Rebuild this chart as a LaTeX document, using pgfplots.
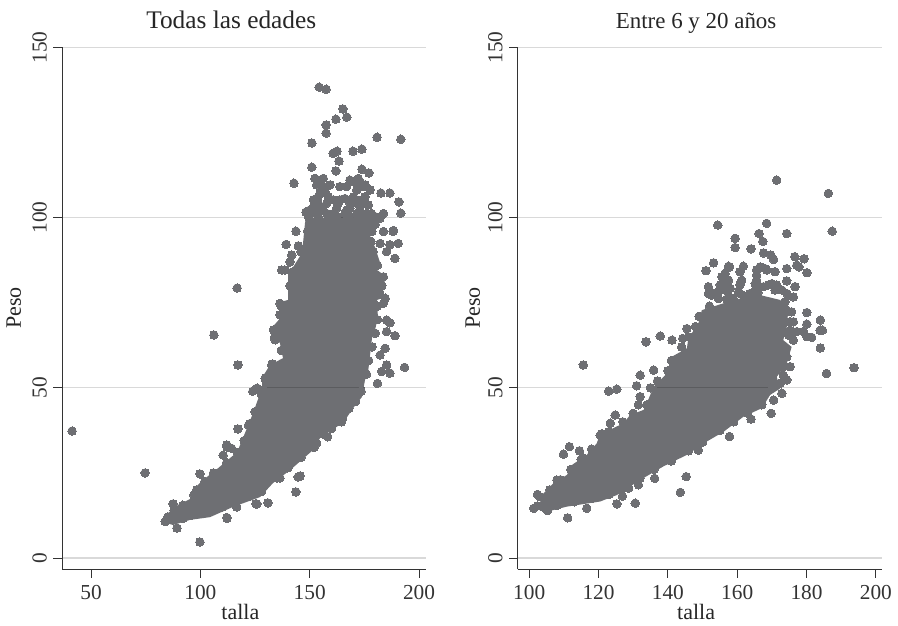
\documentclass[border=0pt]{standalone}
\usepackage{fontspec}
\setmainfont{Liberation Serif}
\usepackage{pgfplots}
\pgfplotsset{compat=1.18}
\definecolor{markgray}{HTML}{6E6F73}
\definecolor{griddy}{HTML}{D9D9D9}
\definecolor{darkline}{HTML}{5B5C5F}
\definecolor{axisc}{HTML}{333333}
\pgfplotsset{
  panel/.style={
    scale only axis, width=273pt, height=391.5pt, anchor=south west,
    axis lines=left, axis line style={-, color=axisc, line width=0.75pt},
    ymin=-3.23, ymax=150.1, ytick={0,50,100,150},
    ymajorgrids, grid style={griddy, line width=0.9pt},
    tick align=outside, tick style={color=axisc, line width=0.75pt},
    major tick length=6.5pt,
    tick label style={font=\fontsize{16}{18}\selectfont, text=black!80},
    /pgf/number format/assume math mode=true,
    /pgf/number format/1000 sep={},
    xticklabel style={anchor=base, yshift=-16pt},
    yticklabel style={rotate=90, anchor=base, yshift=5pt},
    label style={font=\fontsize{16.5}{18}\selectfont, text=black!85},
    title style={text=black!85, anchor=base},
    clip=false,
  },
  blob/.style={fill=markgray, draw=none, forget plot},
  pts/.style={only marks, mark=*, mark size=3.2pt, mark options={draw=markgray, fill=markgray, line width=0pt}},
  dk/.style={darkline, line width=0.9pt},
}
\begin{document}
\begin{tikzpicture}
\useasboundingbox (0,0) rectangle (673.5pt,468.75pt);
\begin{axis}[panel, at={(46.5pt,42pt)},
  xmin=36.7, xmax=203.2, xtick={50,100,150,200},
  xlabel={talla}, ylabel={Peso},
  xlabel style={at={(axis description cs:0.49,0)}, anchor=base, yshift=-38pt},
  ylabel style={at={(axis description cs:-0.113,0.5)}, anchor=base},
  title={Todas las edades},
  title style={at={(axis description cs:0.465,1)}, yshift=7.5pt, font=\fontsize{19}{20}\selectfont}]
\addplot[blob] coordinates {
(82.5,10.6)(85.2,13.2)(89.8,15.6)(96.2,17.6)(96.6,20)(101.2,22.9)(108.1,26.4)(116.8,31.1)
(120.4,36.7)(124.1,42.6)(128.2,49.9)(128.2,52.9)(131.8,56.7)(137.8,58.7)(136.4,63.1)(131.8,67)
(138.7,72)(135,74.9)(140.1,75.8)(140.1,83.1)(146.5,89.6)(147.9,98.7)(148.8,99.9)(181.2,99.9)
(181.2,98.4)(177.6,94.3)(179.9,91.3)(182.1,86.9)(180.8,84.6)(185.3,82.5)(182.1,78.7)(183.5,76.4)
(180.8,75.8)(181.2,70.8)(179.9,67)(178.5,64.6)(177.6,59.6)(176.7,54.6)(175.3,52.3)(173.9,47.3)
(169.8,44)(167.1,41.4)(164.8,39.6)(154.7,35.2)(151.5,31.7)(141,25.8)(133.2,22)(127.3,17.9)
(114.9,15)(104.4,12)(95.3,11.2)(87.5,9.7)} --cycle;
\addplot[pts] coordinates {
(41.3,37.3)(74.7,25)(99.8,24.7)(99.8,4.7)(110.4,30.2)(112.2,32.6)(117.2,37.9)(124,49)(125.9,49.9)
(112.2,11.7)(130.9,16.2)(125.4,15.9)(143.7,19.4)(144.7,23.8)(87.5,15.9)(89.3,8.8)(136.4,23.5)
(106.2,65.5)(116.8,79.3)(117.2,56.7)
(154.3,138.3)(157.5,137.7)(165.2,131.9)(167,129.5)(162,128.9)(157.5,127.2)(157.5,124.8)(180.8,123.6)
(191.7,123)(151,121.9)(162.5,119.5)(160.7,118.9)(169.8,119.5)(173.9,120.1)(163.4,116.6)(151,114.8)
(162,113.7)(173.9,114.2)(177.1,113.1)(142.8,110.1)(148.3,101.6)(182.6,107.2)(186.7,107.2)(190.8,104.6)
(191.7,101.3)(143.7,96)(188.1,96)
(152.4,111.5)(156.2,111.5)(159.3,109.6)(155.5,109.6)(154.7,107.1)(158.5,106.1)(153.9,104.2)(157.8,104.2)
(160.8,105.2)(163.8,109.1)(166.9,109.1)(168.4,111)(172.2,111.5)(174.5,109.1)(177.6,108.1)(171.5,108.1)
(175.3,106.1)(170,106.1)(163.8,105.2)(168.4,104.2)(173,103.2)(156.2,102.2)(160.8,101.2)(153.2,101.2)
(166.9,102.2)(171.5,101.2)(176.1,101.2)(179.9,100.3)(183.7,101.2)(150.1,99.3)(150.1,102.2)(151.7,105.2)
(162.3,100.3)(171.5,104.2)(157.8,101.2)(168.4,100.3)
(153.2,109.6)(157,107.6)(153.9,106.1)(151.7,103.2)(155.5,102.7)(159.3,105.2)(163.1,104.2)(166.1,105.6)
(168.4,102.7)(173.8,105.2)(176.8,103.7)(175.3,109.6)(173,110.5)(170,110.5)(178.3,101.2)(182.1,99.8)
(173.8,101.2)(166.1,101.2)(162.3,102.7)(149.4,100.3)(153.9,100.3)(158.5,100.3)
(139.2,92.1)(144.8,91.7)(141.8,89)(141,87)(137.2,84.6)(138.7,84.6)(183.7,95.9)(190.5,92.4)(186.7,92)
(185.2,90)(189,88)(182.2,92.4)(178.4,95.9)(183.7,82.6)(184.5,76.3)(188.3,96.2)
(185.2,69.9)(186.7,69.1)(185.2,66.5)(189,65.3)(184.5,61.6)(182.2,59.6)(193.4,56)(185.2,56.7)(182.9,54.8)
(186.7,54.3)(181,51.3)(183.7,74.8)(136.4,74.8)(136.4,71.4)(133.4,67)(134.2,64.1)(132.6,56.7)(129.6,52.8)
(128.8,49.4)(130.3,44.5)
(122.7,39.5)(112.1,33.2)(114.3,32.2)(98.3,20)(83.9,10.7)(112.1,11.9)(125.8,15.9)(116.6,15)
(145.6,24.1)(158.2,35.6)(164.6,40)(153.2,33.7)
(92,11.6)(96,12.6)(100,13.5)(105,14.5)(110,15)(115,16.5)(122,18)(128,19.5)(135,23.5)(140,26.5)(146,29.5)(152,32.5)(156,36.5)
(160,38)(165,41)(168,44)(171,46)(173.5,49)(176,54)(177,58)(178.5,62)(180,66)(181,70)(181,74)(182,78)(183,80)
(181,86)(179,90)(178,93)(180,98)
(85,12)(88,14)(92,15.5)(97,18.5)(102,22.5)(106,25)(112,28)(117,31)(120,34.5)(122,39)(125,43)(128,48)(130,53)
(133,57)(137,61)(134,65)(139,72)(137,74)(141,80)(142,84)(146,90)(149,96)
};
\addplot[dk, forget plot] coordinates {(128.2,50)(175.3,50)};
\addplot[dk, forget plot] coordinates {(157,100)(185,100)};
\end{axis}
\begin{axis}[panel, at={(388.3pt,42pt)},
  xmin=96.7, xmax=201.7, xtick={100,120,140,160,180,200},
  xlabel={talla}, ylabel={Peso},
  xlabel style={at={(axis description cs:0.49,0)}, anchor=base, yshift=-38pt},
  ylabel style={at={(axis description cs:-0.104,0.5)}, anchor=base},
  title={Entre 6 y 20 años},
  title style={at={(axis description cs:0.49,1)}, yshift=7.5pt, font=\fontsize{17.2}{20}\selectfont}]
\addplot[blob] coordinates {
(100.8,14.6)(103.7,17)(103.7,18.5)(107,22)(110.9,24.4)(112.3,27.3)(116.6,30.3)(119.5,33.7)(120.5,36.6)
(124,38)(127.2,39.6)(129.1,42)(133,43.5)(133.9,45.4)(135.9,50.3)(139.7,54.2)(141.1,59.1)(145.5,61.6)
(145.9,64.5)(148.8,68.9)(149.8,72.8)(156,74.8)(160.8,76.2)(164.7,77.7)(172.4,75.8)(174.8,73.3)(174.3,67.9)
(173.3,64)(175.7,62)(174.3,57.1)(171.4,53.2)(172.4,49.8)(169.5,47.9)(167.1,44)(161.8,41.5)(156.1,37.1)
(151.2,34.2)(145.5,30.3)(138.7,26.9)(132,22.9)(125.3,18.5)(120.5,16.6)(110.9,15.1)(105.1,13.6)} --cycle;
\addplot[pts] coordinates {
(171.4,111)(186.3,107.1)(187.4,96)(168.5,98.3)(154.4,97.8)(166.3,95.3)(174.3,95.3)(167.4,93)(159.4,93.9)
(159.4,91.2)(164,90.8)(167.6,89.6)(169.7,89)(170.5,87.7)(176.6,88.5)(179.3,87.9)(177.8,85.5)(153.2,86.7)
(151,84.4)(157.8,85.5)(180.1,83.8)(180.1,72.1)(184,69.9)(184.6,66.9)(184,61.7)(193.7,55.9)(185.8,54.2)
(137.8,65.2)(141.2,64)(135.9,55.2)(180.1,68.7)
(157.5,85.7)(161.8,85.7)(160.8,84.1)(156.5,83.6)(155.6,82.6)(157.5,81.6)(161.3,81.6)(160.8,80.2)
(166.6,85.5)(165.6,83.1)(165.2,80.6)(168.5,84.6)(170.9,84.1)(174.3,85)(177.2,86)(174.3,81.4)(176.7,79.7)
(171.4,80.2)(169,80.2)(166.6,79.7)(172.9,78.7)(151.7,79.7)(152.7,77.2)(154.6,76.2)(157,79.7)(157.5,76.7)
(160.4,78.2)(176.2,76.7)(175.7,72.3)(176.2,69.4)(177.2,66.5)(175.3,66.9)(179.1,66.5)(181.5,64.8)
(183.9,66.9)(133.7,63.5)(144.3,64.5)(145.5,67.4)(175.3,56.2)(174.3,52.3)(132,53.7)
(156,81.6)(155.1,80.2)(156.5,78.7)(154.6,78.2)(158,79.2)(153.2,77.7)(151.7,77.7)(160.8,77.7)(158.9,76.2)
(165.6,81.6)(165.2,78.7)(163.7,77.7)(167.6,79.7)(170,80.6)(170.9,78.7)(174.3,77.7)(173.8,75.3)(168.1,85)
(165.6,84.6)(174.3,72.8)(175.3,69.4)(174.8,65.5)(180.1,65)(176.2,64)(174.3,59.1)(173.3,56.2)(173.3,53.7)
(172.4,51.3)
(115.6,56.7)(131,50.6)(125.3,49.6)(122.9,49)(132,47.4)(131.5,45)(124.8,42)(123.4,39.6)(122.9,37.1)(120.5,36.1)
(111.6,32.7)(109.9,30.5)(114.5,31.5)(115.7,29.3)(102.4,18.7)(102.4,15.3)(101.3,14.6)(105.3,13.9)(111.1,11.8)
(116.6,14.6)(125.3,15.9)(130.6,16.1)(136.2,23.4)(145.3,23.9)(143.6,19.3)(157.8,35.7)(164,40.8)(169.8,42.5)
(148.8,31.7)(131.5,21.5)(128.7,20.5)(126.9,18.2)(108,22.9)(172.9,48.4)(170.5,46.4)(167.1,45)
(104,15)(108,15.5)(113,16.5)(118,17.5)(123,18.7)(127,20.5)(132,23.5)(136,26)(141,28.5)(146,31.5)(150,34)
(155,37.5)(159,40)(163,42.5)(167,45.5)
(103,18)(106,20)(109,23)(112,26)(115,29)(118,32)(121,36.5)(124,36)(127,40)(130,42.5)(134,45)(135,50)(137,52)
(140,55)(141,58)(144,62)(146,65)(148,68)(149,71)(152,74)(157,76)(162,77)(166,78)
};
\addplot[dk, forget plot] coordinates {(137,50)(169,50)};
\end{axis}
\end{tikzpicture}
\end{document}
